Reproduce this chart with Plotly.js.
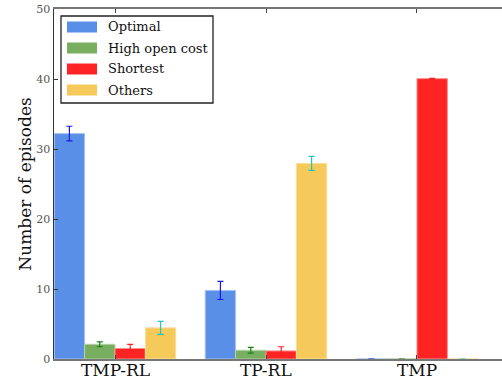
<!DOCTYPE html>
<html><head><meta charset="utf-8">
<script src="https://cdn.plot.ly/plotly-3.0.1.min.js"></script>
<style>html,body{margin:0;padding:0;background:#fff;overflow:hidden}</style>
</head><body><div id="chart" style="width:502px;height:385px"></div>
<script>
const categories = ["TMP-RL", "TP-RL", "TMP"];
const seriesNames = ["Optimal", "High open cost", "Shortest", "Others"];
const optimal = [32.2, 9.8, 0];
const optimalErr = [1.05, 1.3, 0];
const highOpen = [2.1, 1.25, 0];
const highOpenErr = [0.35, 0.4, 0];
const shortest = [1.5, 1.15, 40.05];
const shortestErr = [0.6, 0.6, 0.05];
const others = [4.45, 27.95, 0];
const othersErr = [0.93, 1.0, 0];
const yTicks = [0, 10, 20, 30, 40, 50];

const fills = ["#5a8fe8", "#78ae5f", "#ff2424", "#f5c95a"];
const edges = ["#a9c4f3", "#b5d3a6", "#ff8c8c", "#f9e0a0"];
const errCols = ["#1a1ae0", "#1a801a", "#ff2020", "#22c4c4"];
const vals = [optimal, highOpen, shortest, others];
const errs = [optimalErr, highOpenErr, shortestErr, othersErr];
const serif = "DejaVu Serif";

const traces = seriesNames.map((n, i) => ({
  type: "bar", name: n, x: categories, y: vals[i],
  marker: {color: fills[i], line: {color: edges[i], width: 1}},
  error_y: {type: "data", array: errs[i], visible: true, color: errCols[i], thickness: 1.2, width: 3},
  showlegend: false, hoverinfo: "skip"
}));

const L = 54, T = 9, W = 448, H = 350;
const px = v => (v - L) / W;
const py = v => (T + H - v) / H;
const shapes = [{type: "rect", xref: "paper", yref: "paper", x0: px(61), x1: px(213), y0: py(103), y1: py(16),
  line: {color: "#222", width: 1.3}, fillcolor: "#fff", layer: "above"}];
const annotations = [];
const rows = [27, 48, 69, 90];
seriesNames.forEach((n, i) => {
  shapes.push({type: "rect", xref: "paper", yref: "paper", x0: px(67), x1: px(97), y0: py(rows[i] + 5.5), y1: py(rows[i] - 5.5),
    line: {width: 0}, fillcolor: fills[i], layer: "above"});
  annotations.push({xref: "paper", yref: "paper", x: px(106), y: py(rows[i]), xanchor: "left", yanchor: "middle",
    text: n, showarrow: false, font: {family: serif, size: 13, color: "#111"}});
});
categories.forEach(c => {
  annotations.push({xref: "x", yref: "paper", x: c, y: 0, xanchor: "center", yanchor: "top", yshift: 1,
    text: c, showarrow: false, font: {family: serif, size: 17, color: "#111"}});
});

const layout = {
  width: 502, height: 385,
  margin: {l: L, r: 0, t: T, b: 385 - T - H},
  paper_bgcolor: "#fff", plot_bgcolor: "#fff",
  barmode: "group", bargap: 0.195, bargroupgap: 0,
  xaxis: {type: "category", range: [-0.404, 2.563], showline: true, linecolor: "#777", linewidth: 2, mirror: "ticks",
    ticks: "inside", ticklen: 4, tickcolor: "#444", showgrid: false, zeroline: false, showticklabels: false},
  yaxis: {range: [0, 50], tickvals: yTicks, showline: true, linecolor: "#333", linewidth: 1.5,
    ticks: "inside", ticklen: 4, tickcolor: "#333", showgrid: false, zeroline: false,
    tickfont: {family: serif, size: 11, color: "#555"},
    title: {text: "Number of episodes", font: {family: serif, size: 17, color: "#111"}, standoff: 0}},
  shapes: shapes, annotations: annotations
};
Plotly.newPlot("chart", traces, layout, {staticPlot: true, displayModeBar: false});
</script></body></html>
